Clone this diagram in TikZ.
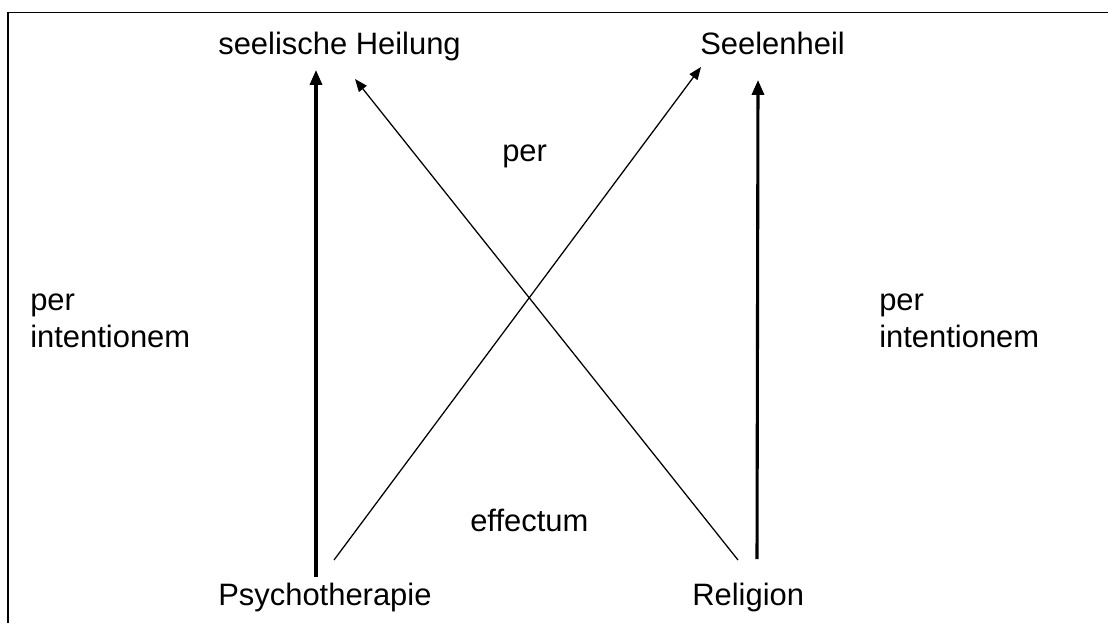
\documentclass[tikz,border=0pt]{standalone}
\usepackage{fontspec}
\setmainfont{Liberation Sans}
\usepackage{tikz}
\usetikzlibrary{arrows.meta,calc}

\begin{document}
\begin{tikzpicture}[
    x=0.025cm, y=-0.025cm,
    label/.style={anchor=base west, inner sep=0pt, font=\fontsize{22}{26.2}\selectfont, align=left},
    frame/.style={line width=1.4pt},
    strong/.style={line width=2.2pt, -{Triangle[length=10.5pt, width=8.5pt]}},
    weak/.style={line width=0.9pt, -{Triangle[length=9pt, width=7pt]}}
]
    \useasboundingbox (0,0) rectangle (1108,623);
    \draw[frame] (8,623) |- (1108,12.5);

    % goals on top, means at the bottom
    \node[label] (heilung) at (218, 55)  {seelische Heilung};
    \node[label] (heil)    at (700, 55)  {Seelenheil};
    \node[label] (psy)     at (218, 605) {Psychotherapie};
    \node[label] (rel)     at (692, 605) {Religion};

    % middle labels
    \node[label] (per)     at (502, 161) {per};
    \node[label] (eff)     at (470, 531) {effectum};
    \node[label] (intL)    at (30, 347)  {per\\intentionem};
    \node[label] (intR)    at (879, 347) {per\\intentionem};

    % per intentionem
    \draw[strong] ($(psy.base west)+(98,-28)$) -- ($(heilung.base west)+(98,15)$);
    \draw[strong] ($(rel.base west)+(65,-46)$) -- ($(heil.base west)+(58,25)$);

    % per effectum
    \draw[weak] ($(psy.base west)+(116,-45)$) -- ($(heil.base west)+(1,12)$);
    \draw[weak] ($(rel.base west)+(46,-45)$) -- ($(heilung.base west)+(137,24)$);

\end{tikzpicture}
\end{document}
